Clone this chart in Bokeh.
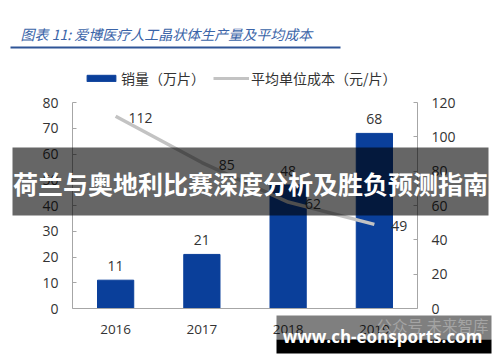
from bokeh.plotting import figure
from bokeh.layouts import column
from bokeh.models import (ColumnDataSource, Range1d, LinearAxis, FactorRange, Label, LabelSet,
                          BoxAnnotation, Legend, LegendItem, FixedTicker)
from bokeh.core.properties import value
from bokeh.embed import file_html
from bokeh.resources import INLINE

# ---- data ----
years = ["2016", "2017", "2018", "2019"]
sales = [11, 21, 48, 68]          # 销量（万片）
cost = [112, 85, 62, 49]          # 平均单位成本（元/片）
left_ticks = [0, 10, 20, 30, 40, 50, 60, 70, 80]
right_ticks = [0, 20, 40, 60, 80, 100, 120]

title_text = "图表 11:  爱博医疗人工晶状体生产量及平均成本"
sales_name = "销量（万片）"
cost_name = "平均单位成本（元/片）"
banner_text = "荷兰与奥地利比赛深度分析及胜负预测指南"
site_text = "www.ch-eonsports.com"
mark_text = "公众号 未来智库"

NUM_FONT = "Open Sans"
CJK_FONT = "Noto Sans CJK SC"
BAR_COLOR = "#0a3f9a"
LINE_COLOR = "#c3c3c3"
AXIS_COLOR = "#a6a6a6"
TEXT_COLOR = "#333333"

W, H = 500, 362
FL, FR, FT, FB = 72, 417, 102, 308   # plot-area edges in picture pixels

src = ColumnDataSource(dict(
    year=years, sales=sales, cost=cost,
    sales_txt=[str(v) for v in sales],
    cost_txt=[str(v) for v in cost],
))

# ---------------- main chart ----------------
p = figure(width=W, height=H,
           x_range=FactorRange(*years, range_padding=0),
           y_range=Range1d(0, 80),
           output_backend="svg", toolbar_location=None,
           min_border_left=FL, min_border_right=W - FR,
           min_border_top=FT, min_border_bottom=H - FB)
p.outline_line_color = None
p.xgrid.grid_line_color = None
p.ygrid.grid_line_color = None

p.extra_y_ranges = {"r": Range1d(0, 120)}
raxis = LinearAxis(y_range_name="r", ticker=FixedTicker(ticks=right_ticks))
p.add_layout(raxis, "right")
p.yaxis[0].ticker = FixedTicker(ticks=left_ticks)

for ax in [p.yaxis[0], raxis]:
    ax.axis_line_color = AXIS_COLOR
    ax.major_tick_line_color = AXIS_COLOR
    ax.major_tick_in = 4
    ax.major_tick_out = 0
    ax.minor_tick_line_color = None
    ax.major_label_text_font = NUM_FONT
    ax.major_label_text_font_size = "14px"
    ax.major_label_text_color = TEXT_COLOR
    ax.major_label_standoff = 14

xa = p.xaxis[0]
xa.axis_line_color = AXIS_COLOR
xa.major_tick_line_color = None
xa.minor_tick_line_color = None
xa.major_label_text_font = NUM_FONT
xa.major_label_text_font_size = "13.5px"
xa.major_label_text_color = TEXT_COLOR
xa.major_label_standoff = 10

bars = p.vbar(x="year", top="sales", width=0.42, source=src,
              fill_color=BAR_COLOR, line_color=BAR_COLOR)
line = p.line(x="year", y="cost", source=src, y_range_name="r",
              line_color=LINE_COLOR, line_width=3.5)

p.add_layout(LabelSet(x="year", y="sales", text="sales_txt", source=src,
                      y_offset=14, text_align="center", text_baseline="middle",
                      text_font=value(NUM_FONT), text_font_size="14px",
                      text_color=TEXT_COLOR))
p.add_layout(LabelSet(x="year", y="cost", text="cost_txt", source=src,
                      y_range_name="r", x_offset=25, y_offset=-2,
                      text_align="center", text_baseline="middle",
                      text_font=value(NUM_FONT), text_font_size="14px",
                      text_color=TEXT_COLOR))

# ---------------- transparent overlay (title, legend, banner, watermark) ----------------
o = figure(width=W, height=H, x_range=Range1d(0, W), y_range=Range1d(0, H),
           x_axis_type=None, y_axis_type=None, min_border=0,
           output_backend="svg", toolbar_location=None)
o.outline_line_color = None
o.background_fill_alpha = 0
o.border_fill_alpha = 0
o.margin = (-H, 0, 0, 0)
if "frame_align" in o.properties():
    o.frame_align = False
if "frame_align" in p.properties():
    p.frame_align = False


def box(l, r, t, b, color, alpha):
    return BoxAnnotation(left=l, right=r, top=H - t, bottom=H - b,
                         left_units="screen", right_units="screen",
                         bottom_units="screen", top_units="screen",
                         fill_color=color, fill_alpha=alpha, line_color=None)


def label(px, py, text, **kw):
    return Label(x=px, y=H - py, x_units="screen", y_units="screen",
                 text=text, text_baseline="middle", **kw)


# title and rule
o.add_layout(label(20, 33, title_text, text_font=CJK_FONT, text_font_size="14px",
                   text_font_style="italic", text_color="#3a64a8"))
o.add_layout(box(10, 340, 46, 48, "#2f5597", 1))

# legend swatches: copies of the series drawn on off-screen ranges,
# so that they only lend the legend their glyphs
o.extra_x_ranges = {"offx": Range1d(-3000, -2000)}
o.extra_y_ranges = {"offy": Range1d(-3000, -2000)}
leg_bar = o.vbar(x="sales", top="sales", width=1, source=src,
                 x_range_name="offx", y_range_name="offy",
                 fill_color=BAR_COLOR, line_color=BAR_COLOR)
leg_line = o.line(x="sales", y="cost", source=src,
                  x_range_name="offx", y_range_name="offy",
                  line_color=LINE_COLOR, line_width=3)
legend = Legend(items=[LegendItem(label=sales_name, renderers=[leg_bar]),
                       LegendItem(label=cost_name, renderers=[leg_line])],
                location=(83, H - 88), orientation="horizontal",
                padding=0, margin=0, spacing=8, label_standoff=2,
                glyph_width=36, glyph_height=8, label_height=16,
                border_line_color=None, background_fill_alpha=0,
                label_text_font=CJK_FONT, label_text_font_size="14px",
                label_text_color=TEXT_COLOR)
o.add_layout(legend, "center")

# overlay banner
o.add_layout(box(12, 488, 147, 215, "black", 0.6))
o.add_layout(label(250, 182, banner_text, text_font=CJK_FONT, text_font_size="25px",
                   text_font_style="bold", text_color="white", text_align="center"))

# watermark
o.add_layout(box(276, 491, 315, 339, "black", 0.5))
o.add_layout(box(276, 491, 339, 353, "black", 1))
o.add_layout(label(376, 324, mark_text, text_font=CJK_FONT, text_font_size="15.5px",
                   text_color="#a4a4a4", text_align="left"))
o.add_layout(label(382, 336, site_text, text_font="Open Sans", text_font_size="17px",
                   text_font_style="bold", text_color="white", text_align="center"))

layout = column(p, o)
open("out.html", "w").write(file_html(layout, INLINE))
